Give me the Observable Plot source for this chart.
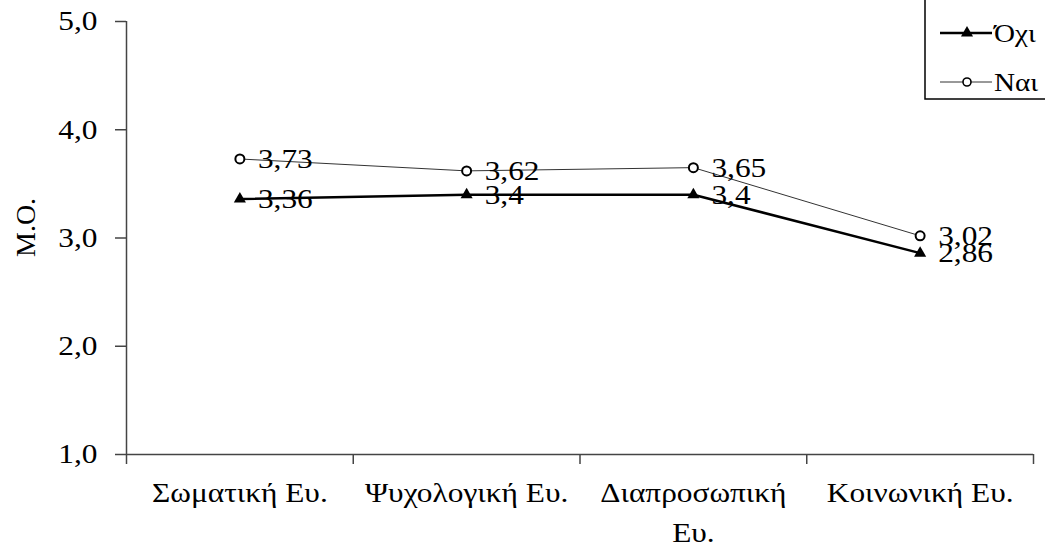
<!DOCTYPE html>
<html><head><meta charset="utf-8">
<script src="https://cdn.jsdelivr.net/npm/d3@7"></script>
<script src="https://cdn.jsdelivr.net/npm/@observablehq/plot@0.6"></script>
<style>
html,body{margin:0;padding:0;background:#fff;}
#wrap{position:relative;width:1045px;height:542px;overflow:hidden;}
#wrap svg, #wrap svg text, #wrap svg tspan{font-family:"Liberation Serif","Times New Roman",serif !important;}
#legend{position:absolute;left:0;top:0;pointer-events:none;}
</style></head><body><div id="wrap"></div>
<script>
const categories = ["Σωματική Ευ.", "Ψυχολογική Ευ.", "Διαπροσωπική Ευ.", "Κοινωνική Ευ."];
const categoryLabels = ["Σωματική Ευ.", "Ψυχολογική Ευ.", "Διαπροσωπική\nΕυ.", "Κοινωνική Ευ."];
const seriesNames = ["Όχι", "Ναι"];
const valuesOxi = [3.36, 3.4, 3.4, 2.86];
const valuesNai = [3.73, 3.62, 3.65, 3.02];
const yTicks = [1, 2, 3, 4, 5];
const yLabel = "M.O.";

const STRETCH = 1.12;
const fmt = v => String(v).replace(".", ",");
const oxi = categories.map((c, i) => ({series: seriesNames[0], i, cat: c, value: valuesOxi[i]}));
const nai = categories.map((c, i) => ({series: seriesNames[1], i, cat: c, value: valuesNai[i]}));
const all = [...nai, ...oxi];
const pos = d => d.i + 0.5;
const boundaries = d3.range(categories.length + 1);
const axisColor = "#444";

const chart = Plot.plot({
  width: 1045,
  height: 542,
  marginLeft: 126,
  marginRight: 12,
  marginTop: 21,
  marginBottom: 88,
  style: {background: "#fff", color: "#000"},
  x: {type: "linear", domain: [0, categories.length]},
  y: {domain: [1, 5]},
  marks: [
    Plot.ruleY([1], {stroke: axisColor, strokeWidth: 1.5}),
    Plot.ruleX([0], {stroke: axisColor, strokeWidth: 1.5}),
    Plot.axisY({ticks: yTicks, tickSize: 11, tickPadding: 18, tickFormat: d => d.toFixed(1).replace(".", ","), fontSize: 28, stroke: axisColor, strokeWidth: 1.5, fill: "#000", label: null}),
    Plot.axisX({ticks: boundaries, tickSize: 10, tickFormat: () => "", stroke: axisColor, strokeWidth: 1.5, label: null}),
    Plot.text(categoryLabels, {x: (d, i) => i + 0.5, frameAnchor: "bottom", lineAnchor: "top", dy: 19, fontSize: 28, lineHeight: 1.44, fill: "#000"}),
    Plot.text([yLabel], {frameAnchor: "left", rotate: -90, dx: -100, dy: 19, fontSize: 28, fill: "#000"}),
    Plot.line(nai, {x: pos, y: "value", stroke: "#333", strokeWidth: 1}),
    Plot.line(oxi, {x: pos, y: "value", stroke: "#000", strokeWidth: 2.5}),
    Plot.text(all, {x: pos, y: "value", text: d => fmt(d.value), textAnchor: "start", dx: 18, fontSize: 28, fill: "#000"}),
    Plot.dot(oxi, {x: pos, y: "value", symbol: "triangle", r: 4.5, fill: "#000", stroke: "none"}),
    Plot.dot(nai, {x: pos, y: "value", r: 4.5, fill: "#fff", stroke: "#000", strokeWidth: 2})
  ]
});
const wrap = document.getElementById("wrap");
wrap.appendChild(chart);

// legend box (top right)
const lg = d3.select(wrap).append("svg").attr("id", "legend").attr("width", 1045).attr("height", 542);
lg.append("rect").attr("x", 925).attr("y", -5).attr("width", 200).attr("height", 104)
  .attr("fill", "none").attr("stroke", "#000").attr("stroke-width", 1.5);
const legendItems = [
  {name: seriesNames[0], y: 33, sw: 2.5, sym: "tri"},
  {name: seriesNames[1], y: 82, sw: 1, sym: "circle"}
];
legendItems.forEach(it => {
  lg.append("line").attr("x1", 940).attr("x2", 992).attr("y1", it.y).attr("y2", it.y)
    .attr("stroke", it.sym === "tri" ? "#000" : "#333").attr("stroke-width", it.sw);
  if (it.sym === "tri") {
    lg.append("path").attr("d", d3.symbol(d3.symbolTriangle, Math.PI * 4.5 * 4.5)())
      .attr("transform", `translate(967,${it.y})`).attr("fill", "#000");
  } else {
    lg.append("circle").attr("cx", 967).attr("cy", it.y).attr("r", 4).attr("fill", "#fff")
      .attr("stroke", "#000").attr("stroke-width", 1.6);
  }
  lg.append("text").attr("x", 994).attr("y", it.y).attr("dy", "0.35em").attr("font-size", 26)
    .attr("fill", "#000").text(it.name);
});

// slight horizontal widening of glyphs, as in the reference
wrap.querySelectorAll("svg text").forEach(t => {
  if (t.textContent === yLabel) return;
  const spans = t.querySelectorAll("tspan");
  const targets = spans.length ? Array.from(spans) : [t];
  targets.forEach(el => {
    const L = el.getComputedTextLength();
    if (L > 0) {
      el.setAttribute("textLength", L * STRETCH);
      el.setAttribute("lengthAdjust", "spacingAndGlyphs");
    }
  });
});
</script></body></html>
